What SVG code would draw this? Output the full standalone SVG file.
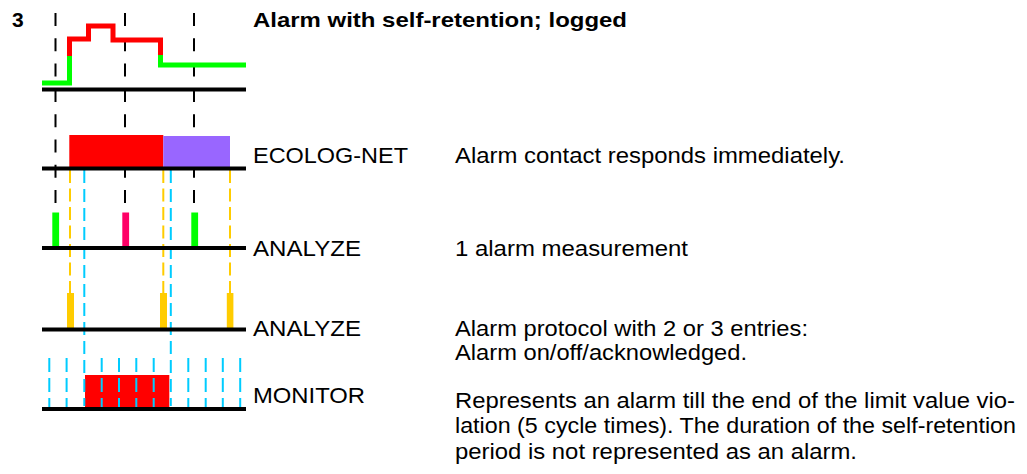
<svg xmlns="http://www.w3.org/2000/svg" width="1027" height="474" viewBox="0 0 1027 474">
<style>
.t{font-family:"Liberation Sans",Arial,sans-serif;fill:#000}
.lbl{font-size:22px}
.desc{font-size:22px}
.b{font-weight:bold;font-size:21px}
.base{stroke:#000;stroke-width:4;fill:none}
.blk{stroke:#000;stroke-width:2;stroke-dasharray:13 12.3;fill:none}
.yel{stroke:#FFCC00;stroke-width:2;stroke-dasharray:13 5.5;fill:none}
.cyn{stroke:#00CCFF;stroke-width:2;stroke-dasharray:13 6;fill:none}
.tick{stroke:#00CCFF;stroke-width:2;stroke-dasharray:14 6;fill:none}
.sig{stroke-width:5;fill:none;stroke-linejoin:miter;stroke-linecap:butt}
</style>
<rect width="1027" height="474" fill="#fff"/>
<g id="grid">
<line class="blk" x1="55.5" y1="13" x2="55.5" y2="204"/>
<line class="blk" x1="125" y1="13" x2="125" y2="204"/>
<line class="blk" x1="194" y1="13" x2="194" y2="204"/>
</g>
<g id="signal">
<polyline class="sig" stroke="#00FF00" points="42,83 69.5,83 69.5,55"/>
<polyline class="sig" stroke="#FF0000" points="69.5,56 69.5,39 88.5,39 88.5,26 113,26 113,40 160.5,40 160.5,56"/>
<polyline class="sig" stroke="#00FF00" points="160.5,55 160.5,65 246,65"/>
</g>
<g id="ecolog">
<rect x="69.3" y="135" width="94" height="32.5" fill="#FF0000"/>
<rect x="163.3" y="136" width="66.7" height="31.5" fill="#9966FF"/>
</g>
<g id="analyze1">
<rect x="52.3" y="212.5" width="6.8" height="35" fill="#00FF00"/>
<rect x="122.3" y="212.5" width="6.8" height="35" fill="#FF0066"/>
<rect x="191.3" y="212.5" width="6.8" height="35" fill="#00FF00"/>
</g>
<g id="analyze2">
<rect x="67" y="293" width="7" height="36" fill="#FFCC00"/>
<rect x="160" y="293" width="7" height="36" fill="#FFCC00"/>
<rect x="226.8" y="293" width="6.6" height="36" fill="#FFCC00"/>
</g>
<g id="monitor">
<rect x="85" y="375" width="84.3" height="33" fill="#FF0000"/>
</g>
<g id="connectors">
<line class="yel" x1="70" y1="170" x2="70" y2="293"/>
<line class="yel" x1="163.3" y1="170" x2="163.3" y2="293"/>
<line class="yel" x1="230" y1="170" x2="230" y2="293"/>
<line class="cyn" x1="84.3" y1="170" x2="84.3" y2="406"/>
<line class="cyn" x1="170.8" y1="170" x2="170.8" y2="406"/>
<g>
<line class="tick" x1="49.3" y1="358" x2="49.3" y2="408"/>
<line class="tick" x1="66.6" y1="358" x2="66.6" y2="408"/>
<line class="tick" x1="101.7" y1="358" x2="101.7" y2="408"/>
<line class="tick" x1="119" y1="358" x2="119" y2="408"/>
<line class="tick" x1="136.3" y1="358" x2="136.3" y2="408"/>
<line class="tick" x1="153.7" y1="358" x2="153.7" y2="408"/>
<line class="tick" x1="188.3" y1="358" x2="188.3" y2="408"/>
<line class="tick" x1="205.7" y1="358" x2="205.7" y2="408"/>
<line class="tick" x1="222.8" y1="358" x2="222.8" y2="408"/>
<line class="tick" x1="240.2" y1="358" x2="240.2" y2="408"/>
</g>
</g>
<g id="baselines">
<line class="base" x1="42" y1="89.5" x2="246" y2="89.5"/>
<line class="base" x1="42" y1="168.5" x2="246" y2="168.5"/>
<line class="base" x1="42" y1="248" x2="246" y2="248"/>
<line class="base" x1="42" y1="329.5" x2="246" y2="329.5"/>
<line class="base" x1="42" y1="409" x2="246" y2="409"/>
</g>
<g id="texts">
<text class="t b" x="12" y="27">3</text>
<text class="t b" x="253" y="27" textLength="374" lengthAdjust="spacingAndGlyphs">Alarm with self-retention; logged</text>
<text class="t lbl" x="253" y="163" textLength="155" lengthAdjust="spacingAndGlyphs">ECOLOG-NET</text>
<text class="t desc" x="455" y="163" textLength="390" lengthAdjust="spacingAndGlyphs">Alarm contact responds immediately.</text>
<text class="t lbl" x="253" y="256" textLength="108" lengthAdjust="spacingAndGlyphs">ANALYZE</text>
<text class="t desc" x="455" y="256" textLength="233" lengthAdjust="spacingAndGlyphs">1 alarm measurement</text>
<text class="t lbl" x="253" y="336" textLength="108" lengthAdjust="spacingAndGlyphs">ANALYZE</text>
<text class="t desc" x="455" y="336" textLength="353" lengthAdjust="spacingAndGlyphs">Alarm protocol with 2 or 3 entries:</text>
<text class="t desc" x="455" y="360" textLength="292" lengthAdjust="spacingAndGlyphs">Alarm on/off/acknowledged.</text>
<text class="t lbl" x="253" y="403" textLength="112" lengthAdjust="spacingAndGlyphs">MONITOR</text>
<text class="t desc" x="455" y="408" textLength="560" lengthAdjust="spacingAndGlyphs">Represents an alarm till the end of the limit value vio-</text>
<text class="t desc" x="455" y="433" textLength="561" lengthAdjust="spacingAndGlyphs">lation (5 cycle times). The duration of the self-retention</text>
<text class="t desc" x="455" y="459" textLength="402" lengthAdjust="spacingAndGlyphs">period is not represented as an alarm.</text>
</g>
</svg>
